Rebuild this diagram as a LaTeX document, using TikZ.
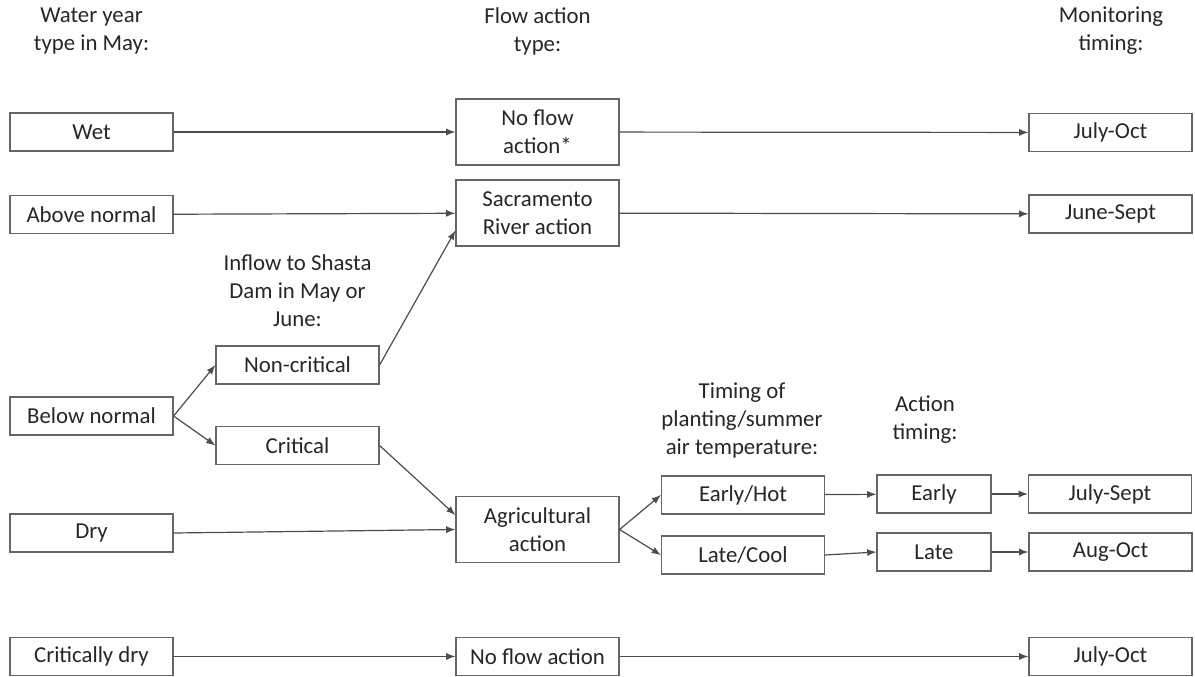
\documentclass[tikz,border=0pt]{standalone}
\usepackage{fontspec}
\setmainfont{Carlito}
\usetikzlibrary{arrows}

\begin{document}
\begin{tikzpicture}[x=0.5pt,y=-0.5pt]
			\tikzstyle{box}=[draw=black!60,line width=0.6pt,minimum width=81.5pt,minimum height=19pt,inner sep=0pt,align=center,text=black!85,font=\fontsize{11.4}{14}\selectfont]
			\tikzstyle{tall box}=[box,minimum height=33pt]
			\tikzstyle{short box}=[box,minimum width=57pt]
			\tikzstyle{heading}=[align=center,inner sep=0pt,text=black!85,font=\fontsize{11.4}{14}\selectfont]
			\tikzstyle{edge}=[draw,line width=0.6pt,black!70,-latex]
			
			\useasboundingbox (0,0) rectangle (1195,676);
			
			\node[heading] (h0) at (91.5,31) {Water year\\type in May:};
			\node[heading] (h1) at (297.5,291) {Inflow to Shasta\\Dam in May or\\June:};
			\node[heading] (h2) at (537.5,31) {Flow action\\type:};
			\node[heading] (h3) at (742,420) {Timing of\\planting/summer\\air temperature:};
			\node[heading] (h4) at (925,420) {Action\\timing:};
			\node[heading] (h5) at (1111,31) {Monitoring\\timing:};
			
			\node[box] (wet) at (91.5,132) {Wet};
			\node[box] (above) at (91.5,214.5) {Above normal};
			\node[box] (below) at (91.5,416) {Below normal};
			\node[box] (dry) at (91.5,533) {Dry};
			\node[box] (critdry) at (91.5,656.5) {Critically dry};
			
			\node[box] (noncrit) at (297.5,365) {Non-critical};
			\node[box] (crit) at (297.5,445.5) {Critical};
			
			\node[tall box] (noflow) at (537.5,132) {No flow\\action*};
			\node[tall box] (sac) at (537.5,213) {Sacramento\\River action};
			\node[tall box] (agri) at (537.5,529.5) {Agricultural\\action};
			\node[box] (noflow2) at (537.5,656.5) {No flow action};
			
			\node[box] (hot) at (743,495) {Early/Hot};
			\node[box] (cool) at (743,555) {Late/Cool};
			
			\node[short box] (early) at (934,494) {Early};
			\node[short box] (late) at (934,552) {Late};
			
			\node[box] (m0) at (1110.5,132.5) {July-Oct};
			\node[box] (m1) at (1110.5,214) {June-Sept};
			\node[box] (m2) at (1110,494) {July-Sept};
			\node[box] (m3) at (1110.5,552) {Aug-Oct};
			\node[box] (m4) at (1110.5,656.5) {July-Oct};
			
			\draw[edge] (wet) -- (noflow);
			\draw[edge] (noflow) -- (m0);
			\draw[edge] (above) -- (sac);
			\draw[edge] (sac) -- (m1);
			\draw[edge] (below.east) -- (noncrit.west);
			\draw[edge] (below.east) -- (crit.west);
			\draw[edge] (noncrit.east) -- (sac.192);
			\draw[edge] (crit.east) -- (agri.170);
			\draw[edge] (dry.east) -- (agri.west);
			\draw[edge] (agri.east) -- (hot.west);
			\draw[edge] (agri.east) -- (cool.west);
			\draw[edge] (hot) -- (early);
			\draw[edge] (cool.east) -- (late.west);
			\draw[edge] (early) -- (m2);
			\draw[edge] (late) -- (m3);
			\draw[edge] (critdry) -- (noflow2);
			\draw[edge] (noflow2) -- (m4);
		\end{tikzpicture}
\end{document}
